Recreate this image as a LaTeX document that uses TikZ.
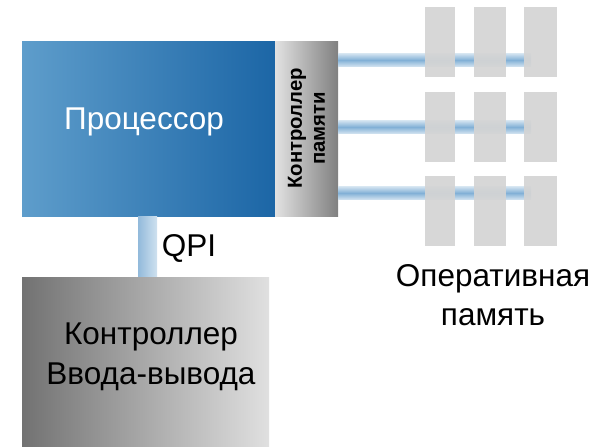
\documentclass[tikz,border=0pt]{standalone}
\usepackage{fontspec}
\setmainfont{Liberation Sans}
\usetikzlibrary{calc}
\begin{document}
\begin{tikzpicture}[x=1pt,y=-1pt,
  block/.style={rectangle,inner sep=0pt,draw=none},
  cpubox/.style={block,left color=cpuL,right color=cpuR},
  mcbox/.style={block,left color=mcL,right color=mcR},
  iobox/.style={block,left color=ioL,right color=ioR},
  dimm/.style={block,fill=dimmgray,fill opacity=0.93,minimum height=70pt},
  bus/.style={top color=busedge,bottom color=busedge,middle color=busmid},
  bigtext/.style={font=\fontsize{31.5}{39.5}\selectfont,align=center,inner sep=0pt}]
\definecolor{cpuL}{HTML}{5E9DCB}
\definecolor{cpuR}{HTML}{1C66A6}
\definecolor{mcL}{HTML}{E2E2E2}
\definecolor{mcR}{HTML}{808080}
\definecolor{ioL}{HTML}{727272}
\definecolor{ioR}{HTML}{E0E0E0}
\definecolor{dimmgray}{HTML}{D4D4D4}
\definecolor{busedge}{HTML}{D2E3F0}
\definecolor{busmid}{HTML}{82B0D6}
\definecolor{qpiL}{HTML}{92BADB}
\definecolor{qpiR}{HTML}{CFE1EF}

\useasboundingbox (0,0) rectangle (595,447);

% end points of the memory bus lines, behind the modules
\foreach \r/\y in {1/60,2/127,3/193}{
  \coordinate (busend\r) at (531,\y);
}

% processor and its memory controller
\node[cpubox,minimum width=253pt,minimum height=175pt] (cpu) at (148.5,128.5) {};
\node[bigtext,text=white] (cputext) at (144,122) {Процессор};
\node[mcbox,minimum width=63pt,minimum height=175pt] (mc) at (306.5,128.5) {};
\node[rotate=90,font=\bfseries\fontsize{20.3}{23}\selectfont,align=center,inner sep=0pt] (mctext) at (mc.center) {Контроллер\\памяти};

\foreach \r/\y in {1/60,2/127,3/193}{
  \shade[bus] ($(mc.east|-0,\y)+(0,-6.5)$) rectangle ($(busend\r)+(0,6.5)$);
}

% memory modules: three rows of three
\foreach \r/\y in {1/42,2/127,3/211}{
  \node[dimm,minimum width=30pt] (d\r a) at (440,\y) {};
  \node[dimm,minimum width=32pt] (d\r b) at (490,\y) {};
  \node[dimm,minimum width=33pt] (d\r c) at (540.5,\y) {};
}
\node[bigtext] (ramlabel) at (493,295) {Оперативная\\память};

% I/O controller linked over QPI
\node[iobox,minimum width=247pt,minimum height=170pt] (io) at (145.5,362) {};
\node[bigtext] (iotext) at (151,357) {Контроллер\\Ввода-вывода};
\path (cpu.south-|147.5,0) coordinate (qpitop);
\path (io.north-|147.5,0) coordinate (qpibot);
\shade[left color=qpiL,right color=qpiR] ($(qpitop)+(-9.5,0)$) rectangle ($(qpibot)+(9.5,0)$);
\node[bigtext] (qpilabel) at (189,248) {QPI};
\end{tikzpicture}
\end{document}
